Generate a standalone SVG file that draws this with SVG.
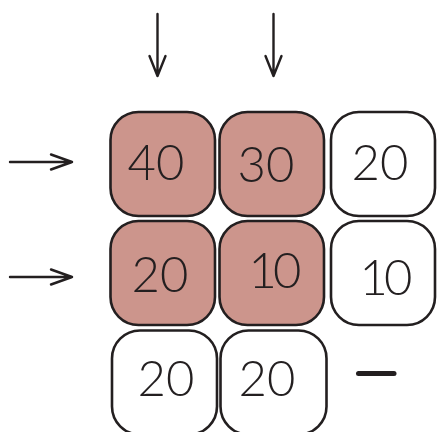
<svg xmlns="http://www.w3.org/2000/svg" width="438" height="432" viewBox="0 0 438 432">
<defs>
<style>
.box{stroke:#231f20;stroke-width:2.6;}
.hi{fill:#cc958c;}
.lo{fill:#ffffff;}
.num{font-family:Lato,"Open Sans","Liberation Sans",sans-serif;font-weight:300;font-size:49px;fill:#231f20;text-anchor:middle;}
.ten{letter-spacing:-4px;}
.arr{stroke:#231f20;stroke-width:2.4;fill:none;stroke-linecap:round;stroke-linejoin:round;}
</style>
</defs>
<rect width="438" height="432" fill="#ffffff"/>
<g id="connectors">
<path class="arr" d="M157.5 14 V76 M149.5 56 L157.5 76 L165.5 56"/>
<path class="arr" d="M273.5 14 V76 M265.5 56 L273.5 76 L281.5 56"/>
<path class="arr" d="M10 162 H72 M51 154.5 L72 162 L51 169.5"/>
<path class="arr" d="M10 277 H72 M51 269.5 L72 277 L51 284.5"/>
</g>
<g id="n11"><rect class="box hi" x="110.5" y="112" width="104.5" height="104" rx="28"/><text class="num" x="156" y="180">40</text></g>
<g id="n12"><rect class="box hi" x="219.5" y="112" width="104.5" height="104" rx="28"/><text class="num" x="266" y="182">30</text></g>
<g id="n13"><rect class="box lo" x="331" y="112" width="104" height="104" rx="28"/><text class="num" x="380" y="180">20</text></g>
<g id="n21"><rect class="box hi" x="110.5" y="221" width="104.5" height="104" rx="28"/><text class="num" x="160" y="292">20</text></g>
<g id="n22"><rect class="box hi" x="219.5" y="221" width="104.5" height="104" rx="28"/><text class="num ten" x="273" y="288">10</text></g>
<g id="n23"><rect class="box lo" x="331" y="221" width="104" height="104" rx="28"/><text class="num ten" x="384" y="295">10</text></g>
<g id="n31"><rect class="box lo" x="112" y="330.5" width="105" height="104" rx="28"/><text class="num" x="166" y="396">20</text></g>
<g id="n32"><rect class="box lo" x="220.5" y="330.5" width="106" height="104" rx="28"/><text class="num" x="267" y="396">20</text></g>
<g id="n33"><path d="M358.5 373.5 H394" stroke="#231f20" stroke-width="5" stroke-linecap="round"/></g>
</svg>
